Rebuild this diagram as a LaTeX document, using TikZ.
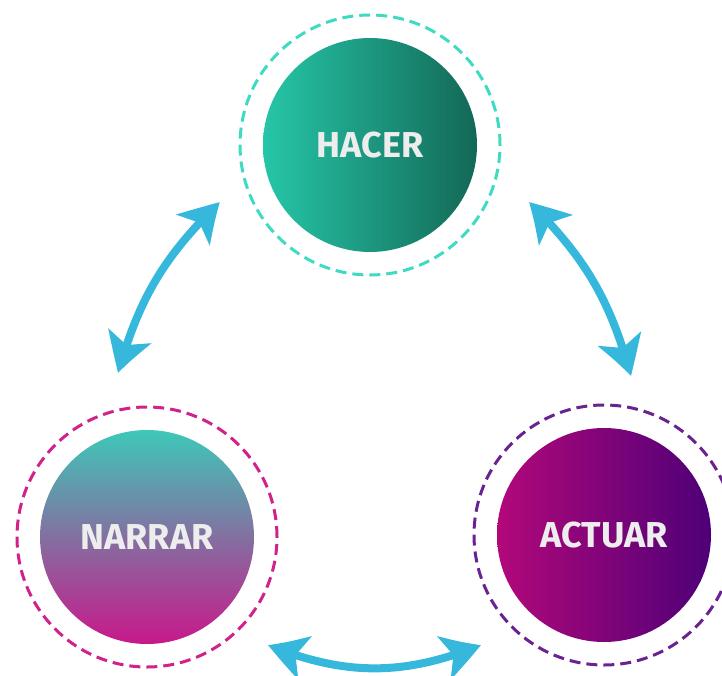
\documentclass[tikz,border=0pt]{standalone}
\usepackage{fontspec}
\setmainfont{Fira Sans}
\usetikzlibrary{arrows.meta,bending}

\definecolor{arrowblue}{HTML}{35B8DC}
\definecolor{labelgrey}{HTML}{EDEDED}
\definecolor{hacerL}{HTML}{26C6A8}
\definecolor{hacerR}{HTML}{136856}
\definecolor{hacerRing}{HTML}{3DDCC2}
\definecolor{narrarT}{HTML}{3EC8B8}
\definecolor{narrarB}{HTML}{C8188A}
\definecolor{narrarRing}{HTML}{D0228A}
\definecolor{actuarL}{HTML}{B2087A}
\definecolor{actuarR}{HTML}{4E0078}
\definecolor{actuarRing}{HTML}{6A2290}

\tikzset{
  core/.style={circle, minimum size=214pt, inner sep=0pt, draw=none,
    text=labelgrey, font=\fontsize{36}{36}\selectfont\bfseries},
  ring/.style={circle, minimum size=260pt, inner sep=0pt, line width=3pt,
    dash pattern=on 11pt off 6pt},
  link/.style={draw=arrowblue, line width=8pt,
    {Stealth[length=40pt,width=44pt,inset=10pt,bend]}-{Stealth[length=40pt,width=44pt,inset=10pt,bend]}}
}

\begin{document}
\begin{tikzpicture}[x=1pt,y=-1pt]
  \useasboundingbox (0,0) rectangle (722,676);

  % outer dashed rings
  \node[ring, draw=hacerRing]  (hacerring)  at (370,145) {};
  \node[ring, draw=narrarRing] (narrarring) at (147,537) {};
  \node[ring, draw=actuarRing] (actuarring) at (604,535) {};

  % shaded discs with labels
  \node[core, left color=hacerL, right color=hacerR] (hacer) at (370,145) {HACER};
  \node[core, top color=narrarT, bottom color=narrarB] (narrar) at (147,537) {NARRAR};
  \node[core, left color=actuarL, right color=actuarR] (actuar) at (604,535) {ACTUAR};

  % arrow end points between the rings
  \coordinate (hn) at (220,202);
  \coordinate (nh) at (118,373);
  \coordinate (ha) at (529,202);
  \coordinate (ah) at (631,376);
  \coordinate (na) at (268,645);
  \coordinate (an) at (481,645);

  % double-headed connectors
  \draw[link] (nh) to[bend left=15] (hn);
  \draw[link] (ha) to[bend left=15] (ah);
  \draw[link] (na) to[bend right=22] (an);
\end{tikzpicture}
\end{document}
